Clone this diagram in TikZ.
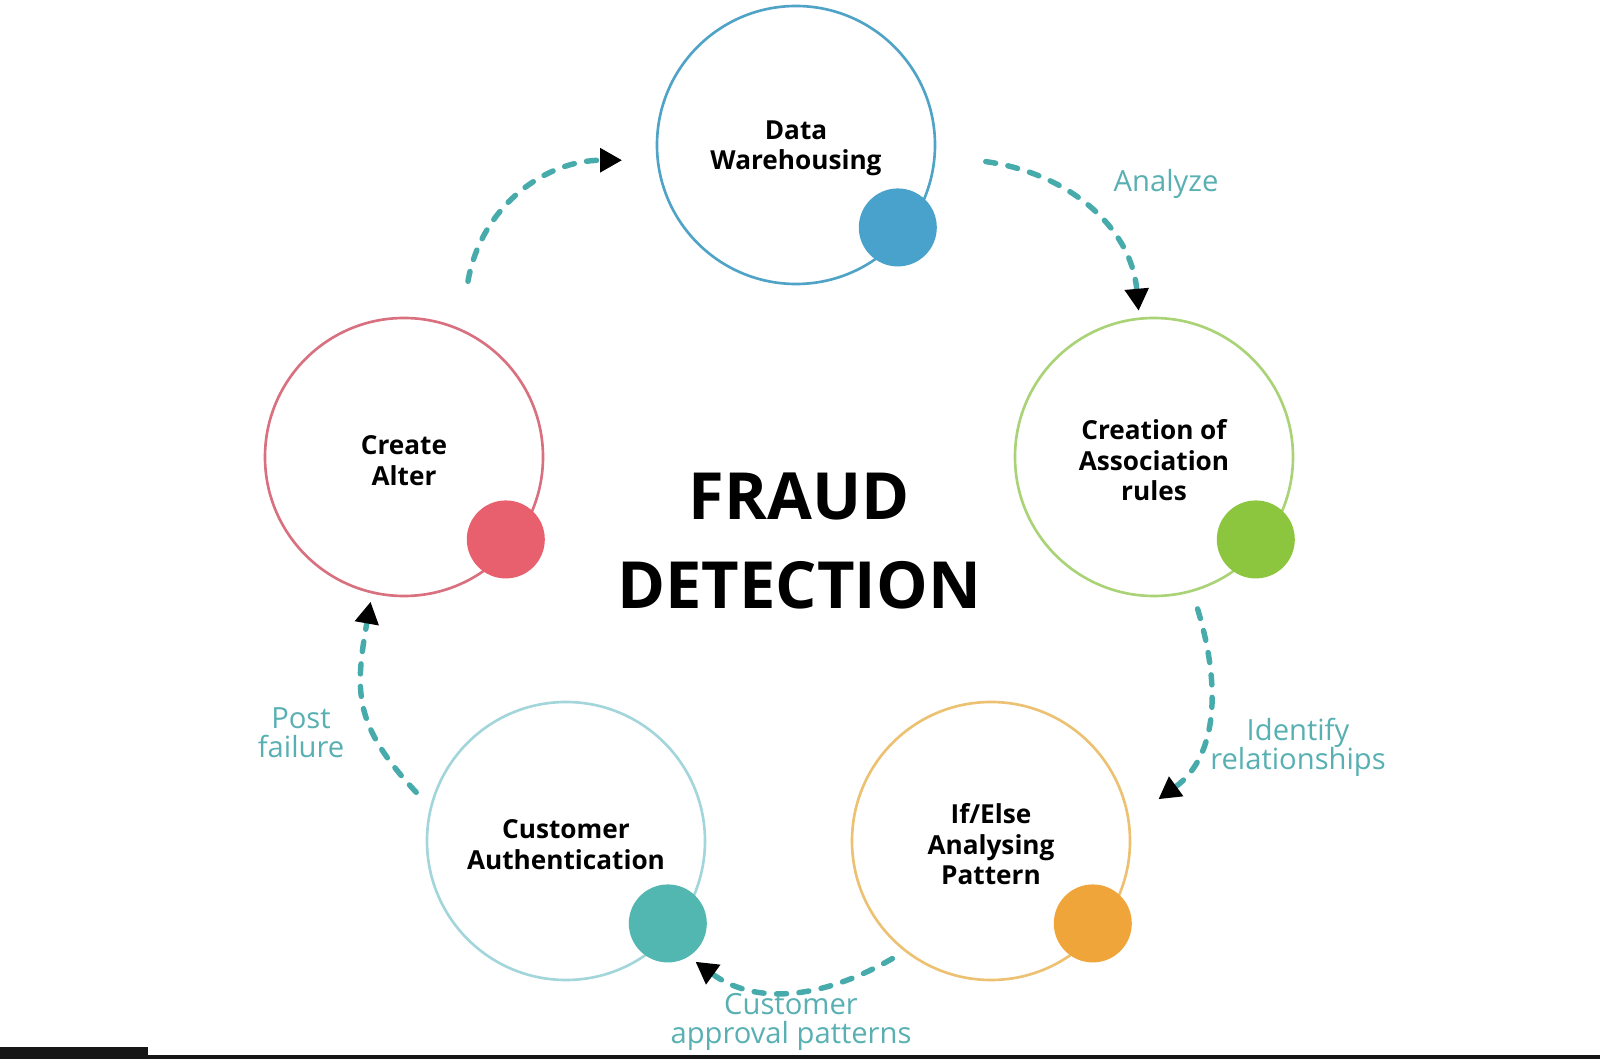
\documentclass[tikz,border=0pt]{standalone}
\usepackage{fontspec}
\setmainfont{Open Sans}
\usetikzlibrary{calc,arrows.meta}
\definecolor{DWLine}{HTML}{4FA3C7}
\definecolor{DWFill}{HTML}{48A2CB}
\definecolor{ARLine}{HTML}{AAD377}
\definecolor{ARFill}{HTML}{8CC63E}
\definecolor{IELine}{HTML}{EDC172}
\definecolor{IEFill}{HTML}{F0A53A}
\definecolor{CALine}{HTML}{A3D6DA}
\definecolor{CAFill}{HTML}{52B6B1}
\definecolor{CRLine}{HTML}{D9707F}
\definecolor{CRFill}{HTML}{E85F6D}
\definecolor{FlowTeal}{HTML}{47ABAC}
\definecolor{NoteTeal}{HTML}{58B0B2}
\definecolor{BarDark}{HTML}{161616}

\begin{document}
\begin{tikzpicture}[
  stage/.style={circle, minimum size=5.56cm, inner sep=0pt, line width=1.5pt},
  stagetext/.style={align=center, font=\fontsize{14.9}{17.4}\selectfont\bfseries},
  marker/.style={circle, minimum size=1.56cm, inner sep=0pt},
  flow/.style={FlowTeal, line width=3.1pt, dash pattern=on 0.2cm off 0.25cm,
    line cap=round, -{Triangle[length=0.44cm,width=0.46cm,black]}},
  note/.style={text=NoteTeal, align=center, font=\fontsize{16.6}{16.6}\selectfont}]
  \useasboundingbox (0,0) rectangle (32,21.18);
  \fill[white] (0,0) rectangle (32,21.18);
  % stages around the cycle
  \foreach \nm/\x/\y/\lc/\fc/\txt in {
      dw/15.92/18.28/DWLine/DWFill/{Data\\Warehousing},
      rules/23.08/12.04/ARLine/ARFill/{Creation of\\Association\\rules},
      ifelse/19.82/4.36/IELine/IEFill/{If/Else\\Analysing\\Pattern},
      auth/11.32/4.36/CALine/CAFill/{Customer\\Authentication},
      alter/8.08/12.04/CRLine/CRFill/{Create\\Alter}}{
    \node[stage, draw=\lc] (\nm) at (\x,\y) {};
    \node[stagetext] (\nm-text) at ($(\nm)+(0,-0.07)$) {\txt};
    \node[marker, fill=\fc] (\nm-dot) at ($(\nm)+(-39:2.62)$) {};
  }
  % title
  \node[font=\fontsize{37}{50.5}\selectfont\bfseries, align=center] (title)
    at (15.98,10.36) {FRAUD\\DETECTION};
  % dashed flow arrows
  \draw[flow] ($(alter)+(70:3.74)$) to[out=80,in=180] ($(dw)+(185:3.49)$);
  \draw[flow] ($(dw)+(-5:3.81)$) to[out=-8,in=95] ($(rules)+(96:2.94)$);
  \draw[flow] ($(rules)+(-74:3.16)$) to[out=-73,in=36] ($(ifelse)+(14:3.45)$);
  \draw[flow] ($(ifelse)+(230:3.07)$) to[out=210,in=-36] ($(auth)+(-43:3.54)$);
  \draw[flow] ($(auth)+(162:3.15)$) to[out=133,in=-100,looseness=1.2] ($(alter)+(257:2.97)$);
  % flow labels
  \node[note] (analyze) at (23.32,17.50) {Analyze};
  \node[note] (identify) at (25.96,6.24) {Identify\\relationships};
  \node[note] (approval) at (15.82,0.74) {Customer\\approval patterns};
  \node[note] (post) at (6.02,6.52) {Post\\failure};
  % bottom strip
  \fill[BarDark] (0,0) rectangle (32,0.08);
  \fill[BarDark] (0,0) rectangle (2.96,0.24);
\end{tikzpicture}
\end{document}
